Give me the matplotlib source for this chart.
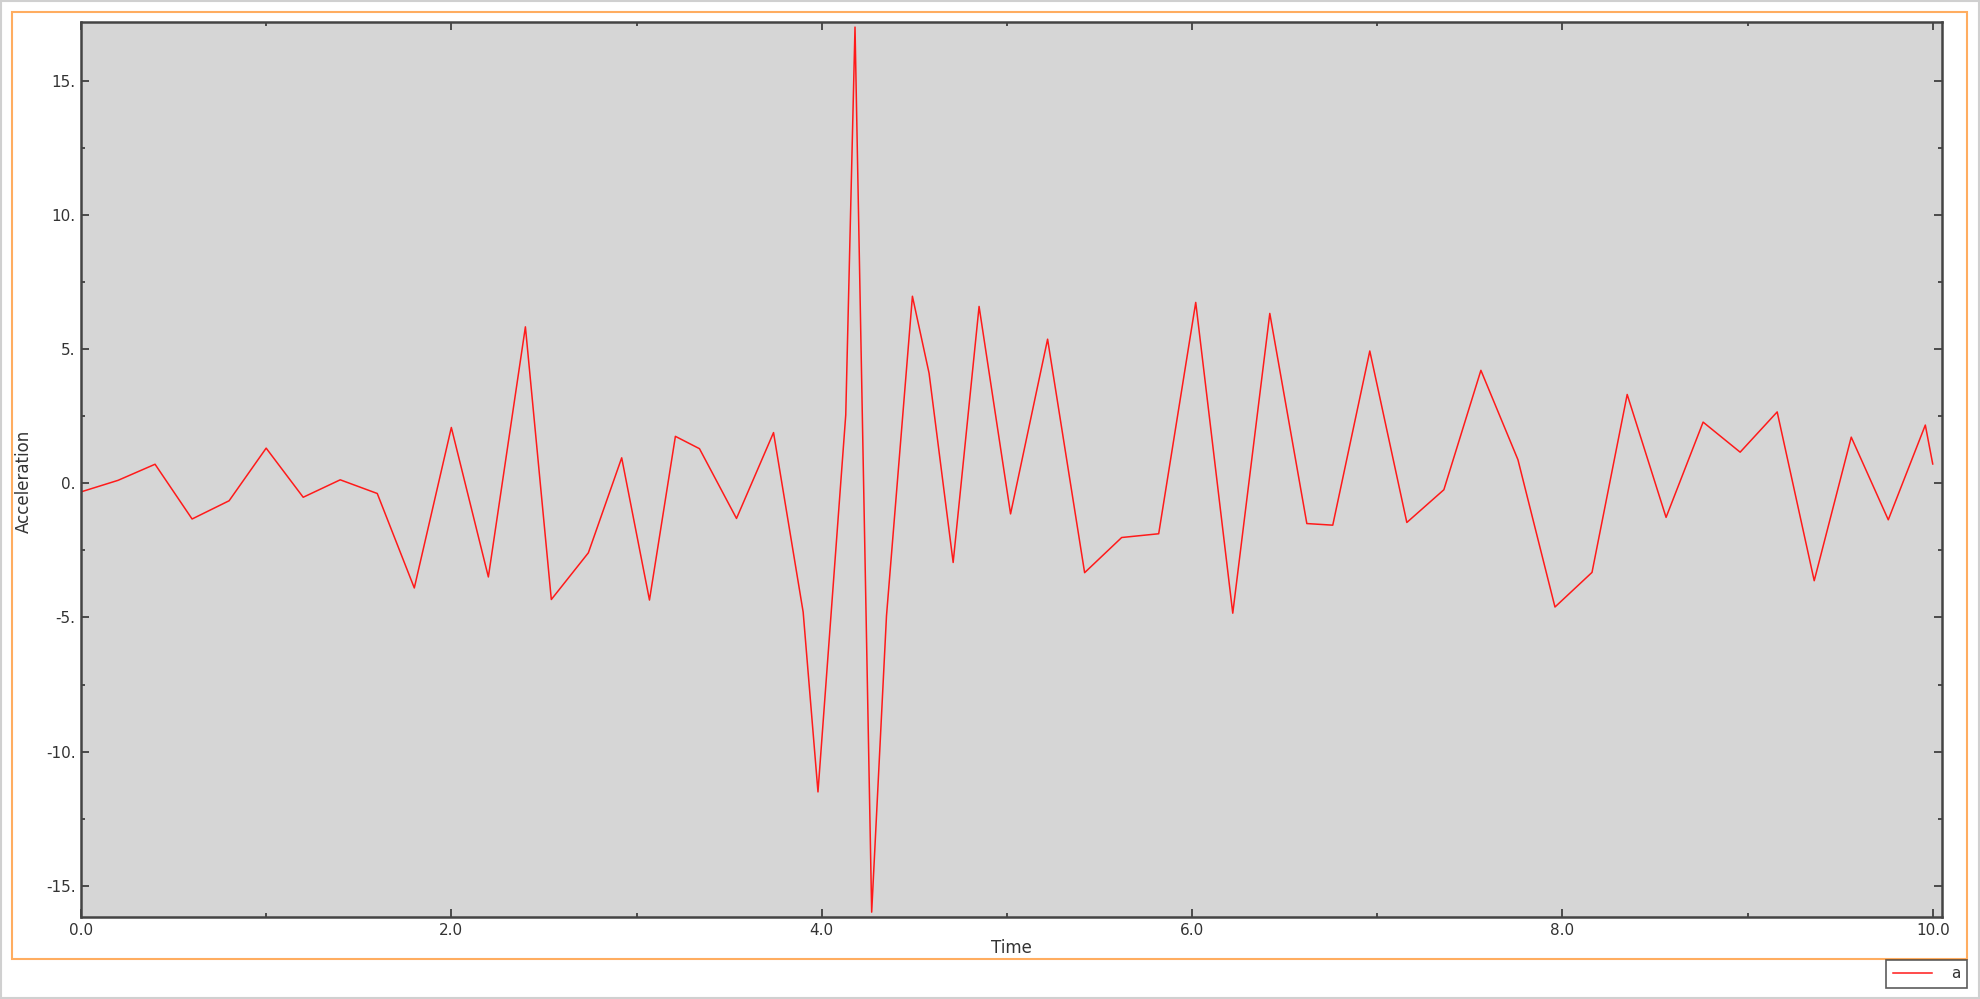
import matplotlib
matplotlib.use("Agg")
import matplotlib.pyplot as plt
from matplotlib.patches import Rectangle
from matplotlib.ticker import MultipleLocator, FuncFormatter

# Time / acceleration samples
time = [0.00, 0.20, 0.40, 0.60, 0.80, 1.00, 1.20, 1.40, 1.60, 1.80,
        2.00, 2.20, 2.40, 2.54, 2.74, 2.92, 3.07, 3.21, 3.34, 3.54,
        3.74, 3.90, 3.98, 4.13, 4.18, 4.27, 4.35, 4.49, 4.58, 4.71,
        4.85, 5.02, 5.22, 5.42, 5.62, 5.82, 6.02, 6.22, 6.42, 6.62,
        6.76, 6.96, 7.16, 7.36, 7.56, 7.76, 7.96, 8.16, 8.35, 8.56,
        8.76, 8.96, 9.16, 9.36, 9.56, 9.76, 9.96, 10.00]
accel = [-0.32, 0.11, 0.71, -1.33, -0.65, 1.31, -0.52, 0.13, -0.38, -3.90,
         2.08, -3.49, 5.83, -4.33, -2.59, 0.95, -4.35, 1.75, 1.29, -1.31,
         1.89, -4.80, -11.50, 2.55, 17.00, -15.98, -4.94, 6.97, 4.10, -2.95,
         6.59, -1.14, 5.37, -3.33, -2.02, -1.88, 6.74, -4.84, 6.33, -1.50,
         -1.56, 4.93, -1.46, -0.24, 4.21, 0.88, -4.61, -3.32, 3.31, -1.27,
         2.28, 1.16, 2.66, -3.63, 1.72, -1.36, 2.17, 0.72]
series_name = "a"

plt.rcParams["axes.unicode_minus"] = False
plt.rcParams["font.family"] = "DejaVu Sans"

fig = plt.figure(figsize=(19.8, 9.99), dpi=100)
fig.patch.set_facecolor("white")

# outer light border and orange frame
fig.patches.append(Rectangle((0.0005, 0.001), 0.999, 0.998, transform=fig.transFigure,
                             fill=False, edgecolor="#d0d0d0", linewidth=1.5))
fig.patches.append(Rectangle((0.0063, 0.040), 0.9871, 0.9477, transform=fig.transFigure,
                             fill=False, edgecolor="#ffad60", linewidth=1.5))

ax = fig.add_axes([0.0409, 0.0821, 0.9399, 0.8959])
ax.set_facecolor("#d6d6d6")
ax.plot(time, accel, color="#ff1a1a", linewidth=1.1, label=series_name)

ax.set_xlim(0, 10.05)
ax.set_ylim(-16.16, 17.19)

ax.xaxis.set_major_locator(MultipleLocator(2))
ax.xaxis.set_minor_locator(MultipleLocator(1))
ax.yaxis.set_major_locator(MultipleLocator(5))
ax.yaxis.set_minor_locator(MultipleLocator(2.5))
ax.xaxis.set_major_formatter(FuncFormatter(lambda v, p: f"{v:.1f}"))
ax.yaxis.set_major_formatter(FuncFormatter(lambda v, p: f"{v:.0f}."))

ax.tick_params(which="both", direction="in", top=True, right=True,
               color="#333333", labelcolor="#333333", labelsize=11, width=1.2)
ax.tick_params(which="major", length=6, pad=4)
ax.tick_params(which="minor", length=3)
ax.tick_params(axis="x", which="major", pad=4)
for s in ax.spines.values():
    s.set_color("#444444")
    s.set_linewidth(1.8)

ax.set_xlabel("Time", fontsize=12, color="#333333", labelpad=1)
ax.set_ylabel("Acceleration", fontsize=12, color="#333333")
ax.yaxis.set_label_coords(-0.0258, 0.487)

leg = fig.legend(loc="upper right", bbox_to_anchor=(0.9934, 0.0395),
                 fontsize=11, frameon=True, fancybox=False, borderpad=0.45,
                 handlelength=2.6, handletextpad=1.2, borderaxespad=0)
leg.get_frame().set_edgecolor("#333333")
leg.get_frame().set_linewidth(1.2)
for t in leg.get_texts():
    t.set_color("#333333")

fig.savefig("out.png", dpi=100)
